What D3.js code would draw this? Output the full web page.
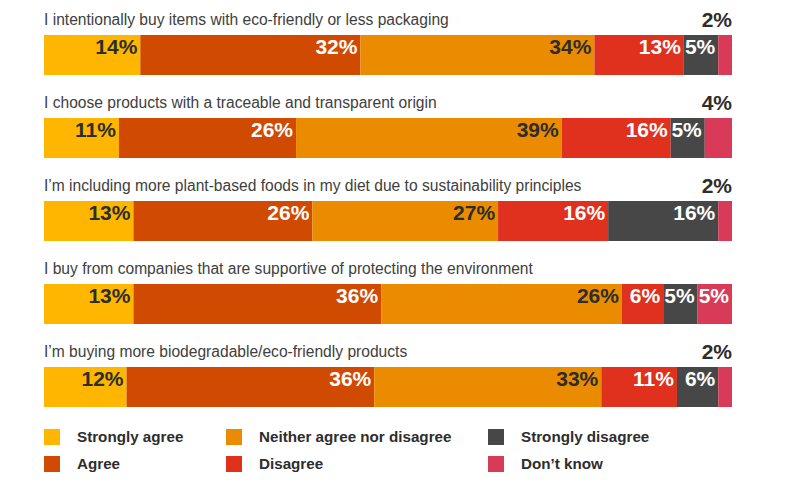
<!doctype html>
<html lang="en">
<head>
<meta charset="utf-8">
<title>Sustainability attitudes</title>
<script src="https://cdn.jsdelivr.net/npm/d3@7"></script>
<style>
  body { margin: 0; background: #fff; }
  svg { font-family: "Liberation Sans", Arial, Helvetica, sans-serif; }
  .question { font-size: 15.6px; fill: #404040; }
  .pct { font-size: 21px; font-weight: bold; }
  .legend text { font-size: 15.2px; font-weight: bold; fill: #2d2d2d; }
</style>
</head>
<body>
<script>
// answer categories, in stacking order
var categories = ["Strongly agree", "Agree", "Neither agree nor disagree", "Disagree", "Strongly disagree", "Don\u2019t know"];
var colors = ["#FFB600", "#D04A02", "#EB8C00", "#E0301E", "#474747", "#D93A57"];
var labelDark = [true, false, true, false, false, false];

var questions = [
    "I intentionally buy items with eco-friendly or less packaging",
    "I choose products with a traceable and transparent origin",
    "I\u2019m including more plant-based foods in my diet due to sustainability principles",
    "I buy from companies that are supportive of protecting the environment",
    "I\u2019m buying more biodegradable/eco-friendly products"
];

// segment sizes as drawn
var values = [
    [14, 32, 34, 13, 5, 2],
    [11, 26, 39, 16, 5, 4],
    [13, 26, 27, 16, 16, 2],
    [13, 36, 35, 6, 5, 5],
    [12, 36, 33, 11, 6, 2]
];
// labels as printed
var labels = [
    ["14%", "32%", "34%", "13%", "5%", "2%"],
    ["11%", "26%", "39%", "16%", "5%", "4%"],
    ["13%", "26%", "27%", "16%", "16%", "2%"],
    ["13%", "36%", "26%", "6%", "5%", "5%"],
    ["12%", "36%", "33%", "11%", "6%", "2%"]
];

var width = 800, height = 492;
var left = 44, right = 732;
var barH = 40;

var svg = d3.select("body").append("svg")
    .attr("width", width)
    .attr("height", height);

var y = d3.scaleBand()
    .domain(d3.range(questions.length))
    .range([35, 35 + 83 * questions.length])
    .paddingInner(0)
    .align(0);

questions.forEach(function(q, i) {
    var row = values[i];
    var total = d3.sum(row);
    var x = d3.scaleLinear().domain([0, total]).range([left, right]);
    var starts = d3.cumsum([0].concat(row)).slice(0, row.length);
    var top = y(i);

    var g = svg.append("g");

    g.append("text")
        .attr("class", "question")
        .attr("x", left)
        .attr("y", top - 10)
        .text(q);

    var segs = row.map(function(v, j) {
        return { v: v, j: j, x0: x(starts[j]), x1: x(starts[j] + v), label: labels[i][j] };
    });

    g.selectAll("rect")
        .data(segs)
        .join("rect")
        .attr("x", d => d.x0)
        .attr("y", top)
        .attr("width", d => d.x1 - d.x0)
        .attr("height", barH)
        .attr("fill", d => colors[d.j]);

    g.selectAll("text.pct")
        .data(segs)
        .join("text")
        .attr("class", "pct")
        .attr("text-anchor", "end")
        .attr("x", d => d.v < 5 ? d.x1 : d.x1 - 3)
        .attr("y", d => d.v < 5 ? top - 8 : top + 19)
        .attr("fill", d => (d.v < 5 || labelDark[d.j]) ? "#2d2d2d" : "#ffffff")
        .text(d => d.label);
});

// legend
var legendCols = [44, 226, 488];
var legend = svg.append("g").attr("class", "legend");
categories.forEach(function(c, k) {
    var col = Math.floor(k / 2), r = k % 2;
    var lx = legendCols[col], ly = 429 + r * 27;
    legend.append("rect")
        .attr("x", lx)
        .attr("y", ly)
        .attr("width", 16)
        .attr("height", 16)
        .attr("fill", colors[k]);
    legend.append("text")
        .attr("x", lx + 33)
        .attr("y", ly + 13)
        .text(c);
});
</script>
</body>
</html>
